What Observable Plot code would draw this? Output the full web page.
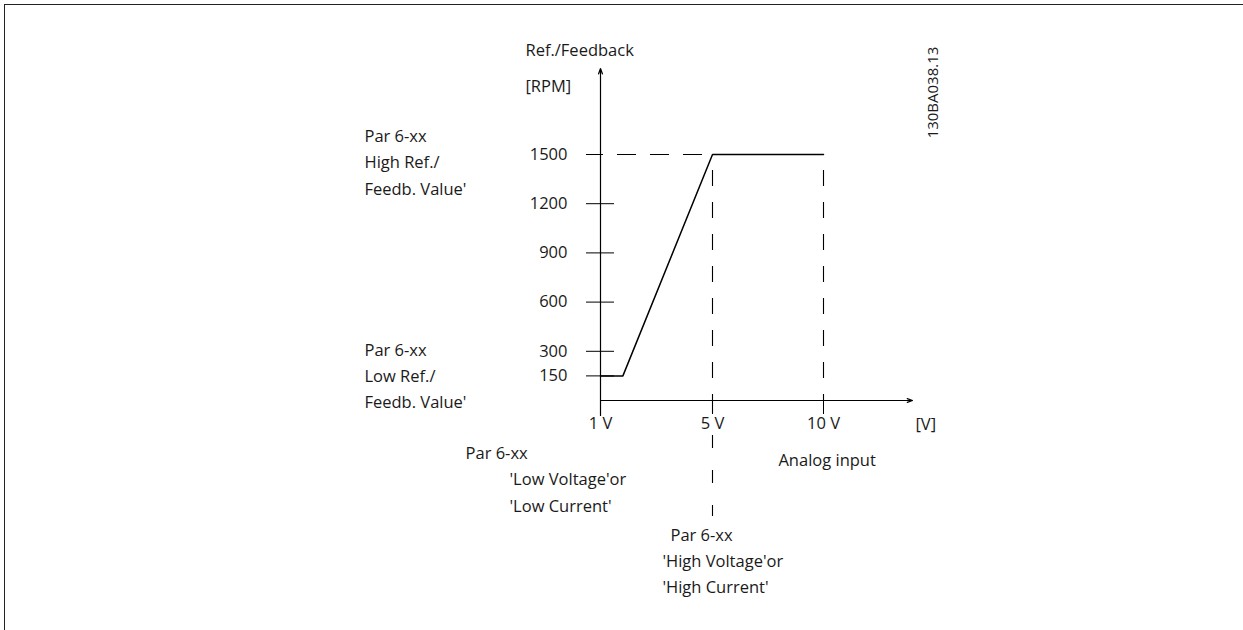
<!DOCTYPE html>
<html><head><meta charset="utf-8">
<script src="https://cdn.jsdelivr.net/npm/d3@7"></script>
<script src="https://cdn.jsdelivr.net/npm/@observablehq/plot@0.6"></script>
<style>
body{margin:0;background:#fff;}
#wrap{position:relative;width:1243px;height:630px;overflow:hidden;}
#border{position:absolute;left:4px;top:4px;right:-4px;bottom:-4px;border-top:1.5px solid #222;border-left:1.5px solid #222;pointer-events:none;}
</style></head><body><div id="wrap"><div id="border"></div></div>
<script>
// Reference curve: analog input (V) -> Ref./Feedback (RPM)
const curveVolts = [1, 1.8, 5, 10];
const curveRpm = [150, 150, 1500, 1500];
// Axis ticks
const yTickValues = [150, 300, 600, 900, 1200, 1500];
const xTickValues = [1, 5, 10];
const xTickLabels = ["1 V", "5 V", "10 V"];
const lowInputVolt = 1;
const highInputVolt = 5;
const maxInputVolt = 10;
const highRefRpm = 1500;
// Annotation texts (positions in volts / rpm)
const noteTexts = ["Ref./Feedback", "[RPM]", "Par 6-xx\nHigh Ref./\nFeedb. Value'", "Par 6-xx\nLow Ref./\nFeedb. Value'",
  "Analog input", "[V]", "Par 6-xx", "'Low Voltage'or\n'Low Current'", "Par 6-xx", "'High Voltage'or\n'High Current'"];
const noteVolts = [-1.68, -1.68, -7.43, -7.43, 7.97, 14.13, -3.82, -2.25, 3.5, 3.21];
const noteRpm = [2155, 1930, 1468, 165, -350, -130, -308, -546, -808, -1043];
const docId = "130BA038.13";

const curve = curveVolts.map((v, i) => ({v, rpm: curveRpm[i]}));
const notes = noteTexts.map((t, i) => ({t, v: noteVolts[i], rpm: noteRpm[i]}));
const ink = "#1a1a1a";
const font = "Open Sans";
const fs = 16.5;

const chart = Plot.plot({
  width: 1243,
  height: 630,
  marginLeft: 600,
  marginRight: 331,
  marginTop: 20,
  marginBottom: 230,
  style: {fontFamily: font, fontSize: fs + "px", color: ink, background: "transparent", overflow: "visible"},
  x: {type: "linear", domain: [1, 5, 10, 14], range: [600, 712, 823, 912]},
  y: {type: "linear", domain: [0, 1500], range: [400, 154]},
  marks: [
    // axes lines with arrows
    Plot.arrow([0], {x1: lowInputVolt, x2: lowInputVolt, y1: -91, y2: 2024, stroke: "#000", strokeWidth: 1.2, headLength: 7, headAngle: 40}),
    Plot.arrow([0], {x1: lowInputVolt, x2: 14, y1: 0, y2: 0, stroke: "#000", strokeWidth: 1.2, headLength: 7, headAngle: 40}),
    Plot.axisY({ticks: yTickValues, tickSize: 14, tickPadding: 19, fontSize: fs, label: null, tickFormat: d => String(d), stroke: "#000", fill: ink}),
    Plot.ruleY(yTickValues.filter(d => d !== highRefRpm), {y: d => d, x1: lowInputVolt, x2: 1.5, stroke: "#000", strokeWidth: 1}),
    Plot.axisX({ticks: xTickValues, tickSize: 14, tickPadding: 3, fontSize: fs, label: null, tickFormat: d => xTickLabels[xTickValues.indexOf(d)], stroke: "#000", fill: ink}),
    // dashed guides
    Plot.ruleY([highRefRpm], {y: d => d, x1: highInputVolt, x2: lowInputVolt, stroke: "#000", strokeWidth: 1.1, strokeDasharray: "19,14", strokeDashoffset: 23}),
    Plot.ruleX([highInputVolt, maxInputVolt], {x: d => d, y1: highRefRpm, y2: 0, stroke: "#000", strokeWidth: 1.1, strokeDasharray: "16,16", strokeDashoffset: 16}),
    Plot.ruleX([highInputVolt], {x: d => d, y1: 0, y2: -707, stroke: "#000", strokeWidth: 1.1, strokeDasharray: "13,22"}),
    // curve
    Plot.line(curve, {x: "v", y: "rpm", stroke: "#000", strokeWidth: 1.5}),
    // annotations
    Plot.text(notes, {x: "v", y: "rpm", text: "t", textAnchor: "start", lineAnchor: "middle", lineHeight: 1.6, fontSize: fs, fill: ink}),
    Plot.text([docId], {x: 14.94, y: 1878, text: d => d, rotate: -90, textAnchor: "middle", lineAnchor: "middle", fontSize: 15, fill: ink})
  ]
});
document.getElementById("wrap").appendChild(chart);
</script>
</body></html>
